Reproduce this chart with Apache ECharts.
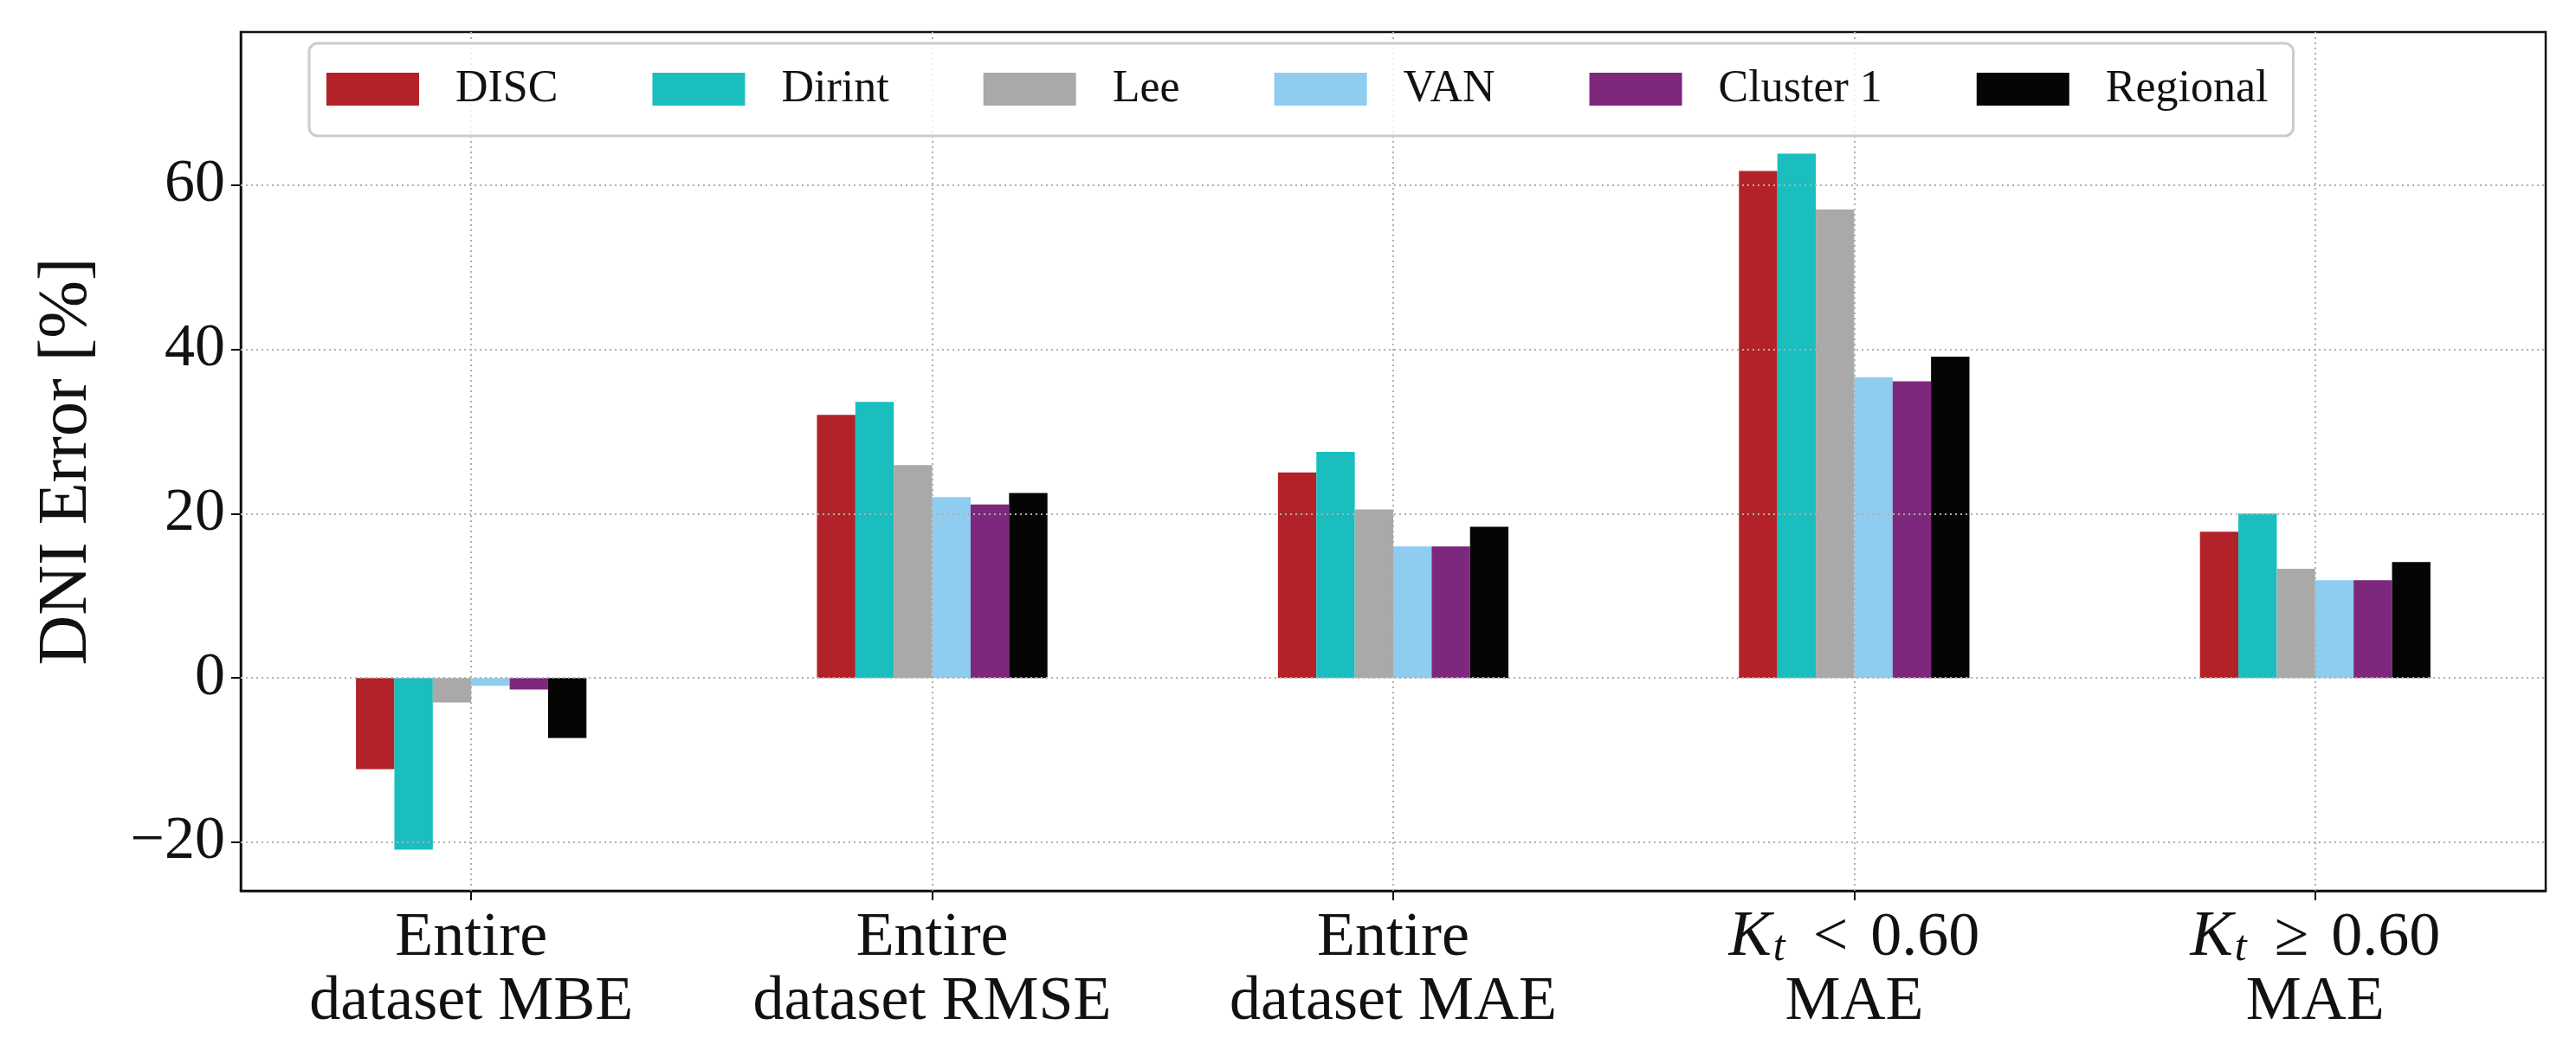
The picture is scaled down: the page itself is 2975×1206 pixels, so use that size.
<!DOCTYPE html>
<html>
<head>
<meta charset="utf-8">
<script src="https://cdn.jsdelivr.net/npm/echarts@6/dist/echarts.min.js"></script>
<style>
html, body { margin: 0; padding: 0; background: #ffffff; }
#chart { width: 2975px; height: 1206px; }
</style>
</head>
<body>
<div id="chart"></div>
<script>
const categories = ['Entire\ndataset MBE', 'Entire\ndataset RMSE', 'Entire\ndataset MAE', 'Kt < 0.60\nMAE', 'Kt \u2265 0.60\nMAE'];
const seriesNames = ['DISC', 'Dirint', 'Lee', 'VAN', 'Cluster 1', 'Regional'];
const discValues = [-11.1, 32.0, 25.0, 61.7, 17.8];
const dirintValues = [-20.9, 33.6, 27.5, 63.8, 20.0];
const leeValues = [-3.0, 25.9, 20.5, 57.0, 13.3];
const vanValues = [-0.95, 22.0, 16.0, 36.6, 11.9];
const cluster1Values = [-1.4, 21.1, 16.0, 36.1, 11.9];
const regionalValues = [-7.3, 22.5, 18.4, 39.1, 14.1];
const yTicks = [-20, 0, 20, 40, 60];
const yMin = -25.9;
const yMax = 78.6;

const colors = ['#B22228', '#1ABEBE', '#A9A9A9', '#8ECDF0', '#7D277D', '#050505'];
const allValues = [discValues, dirintValues, leeValues, vanValues, cluster1Values, regionalValues];
const FONT = 'Liberation Serif';

const chart = echarts.init(document.getElementById('chart'), null, { renderer: 'canvas' });

const gridStyle = { color: '#b0b0b0', width: 2, type: [2, 4] };

const barSeries = seriesNames.map((name, i) => ({
  name: name,
  type: 'bar',
  data: allValues[i],
  barGap: '0%',
  barCategoryGap: '50%',
  itemStyle: { color: colors[i] },
  emphasis: { disabled: true },
  animation: false
}));

const helper = {
  name: '__grid',
  type: 'line',
  data: [],
  z: 5,
  silent: true,
  animation: false,
  markLine: {
    silent: true,
    symbol: ['none', 'none'],
    label: { show: false },
    lineStyle: gridStyle,
    emphasis: { disabled: true },
    animation: false,
    data: categories.map(c => ({ xAxis: c })).concat(yTicks.map(v => ({ yAxis: v })))
  }
};

function fmtX(value) {
  const lines = value.split('\n');
  return lines.map(l => {
    if (l.indexOf('Kt') === 0) {
      const parts = l.split(' ');
      return '{k|K}{t|t}{op|' + parts[1] + '}{n|' + parts.slice(2).join(' ') + '}';
    }
    return '{n|' + l + '}';
  }).join('\n');
}

chart.setOption({
  backgroundColor: '#ffffff',
  animation: false,
  textStyle: { fontFamily: FONT },
  grid: {
    left: 278, top: 37, right: 35, bottom: 177,
    show: true, borderColor: '#111111', borderWidth: 2.5, backgroundColor: 'transparent',
    containLabel: false
  },
  legend: {
    data: seriesNames,
    left: 357, top: 50,
    orient: 'horizontal',
    padding: [27, 29, 28, 20],
    itemGap: 109,
    itemWidth: 107,
    itemHeight: 38,
    icon: 'rect',
    selectedMode: false,
    borderColor: '#cccccc',
    borderWidth: 3,
    borderRadius: 10,
    backgroundColor: 'rgba(255,255,255,0.8)',
    z: 20,
    textStyle: { fontFamily: FONT, fontSize: 52, color: '#111111', padding: [0, 0, 0, 37] }
  },
  xAxis: {
    type: 'category',
    data: categories,
    boundaryGap: true,
    axisLine: { show: true, onZero: false, lineStyle: { color: '#111111', width: 2.5 } },
    axisTick: { show: true, alignWithLabel: true, length: 11, lineStyle: { color: '#111111', width: 2 } },
    splitLine: { show: false },
    axisLabel: {
      margin: 18,
      interval: 0,
      fontFamily: FONT,
      fontSize: 72,
      color: '#111111',
      formatter: fmtX,
      rich: {
        n: { fontFamily: FONT, fontSize: 72, lineHeight: 74, color: '#111111' },
        op: { fontFamily: FONT, fontSize: 72, lineHeight: 74, color: '#111111', padding: [0, 26, 0, 26] },
        k: { fontFamily: FONT, fontSize: 74, lineHeight: 74, fontStyle: 'italic', color: '#111111' },
        t: { fontFamily: FONT, fontSize: 50, lineHeight: 60, fontStyle: 'italic', color: '#111111', verticalAlign: 'bottom', padding: [0, 6, 0, 2] }
      }
    }
  },
  yAxis: {
    type: 'value',
    min: yMin,
    max: yMax,
    name: 'DNI Error [%]',
    nameLocation: 'middle',
    nameRotate: 90,
    nameGap: 160,
    nameTextStyle: { fontFamily: FONT, fontSize: 80, color: '#111111' },
    axisLine: { show: true, lineStyle: { color: '#111111', width: 2.5 } },
    axisTick: { show: true, length: 11, lineStyle: { color: '#111111', width: 2 } },
    splitLine: { show: false },
    axisLabel: {
      fontFamily: FONT, fontSize: 70, color: '#111111', margin: 18,
      showMinLabel: false, showMaxLabel: false,
      formatter: v => (yTicks.indexOf(v) >= 0 ? (v < 0 ? '\u2212' + Math.abs(v) : String(v)) : '')
    }
  },
  series: barSeries.concat([helper])
});
</script>
</body>
</html>
